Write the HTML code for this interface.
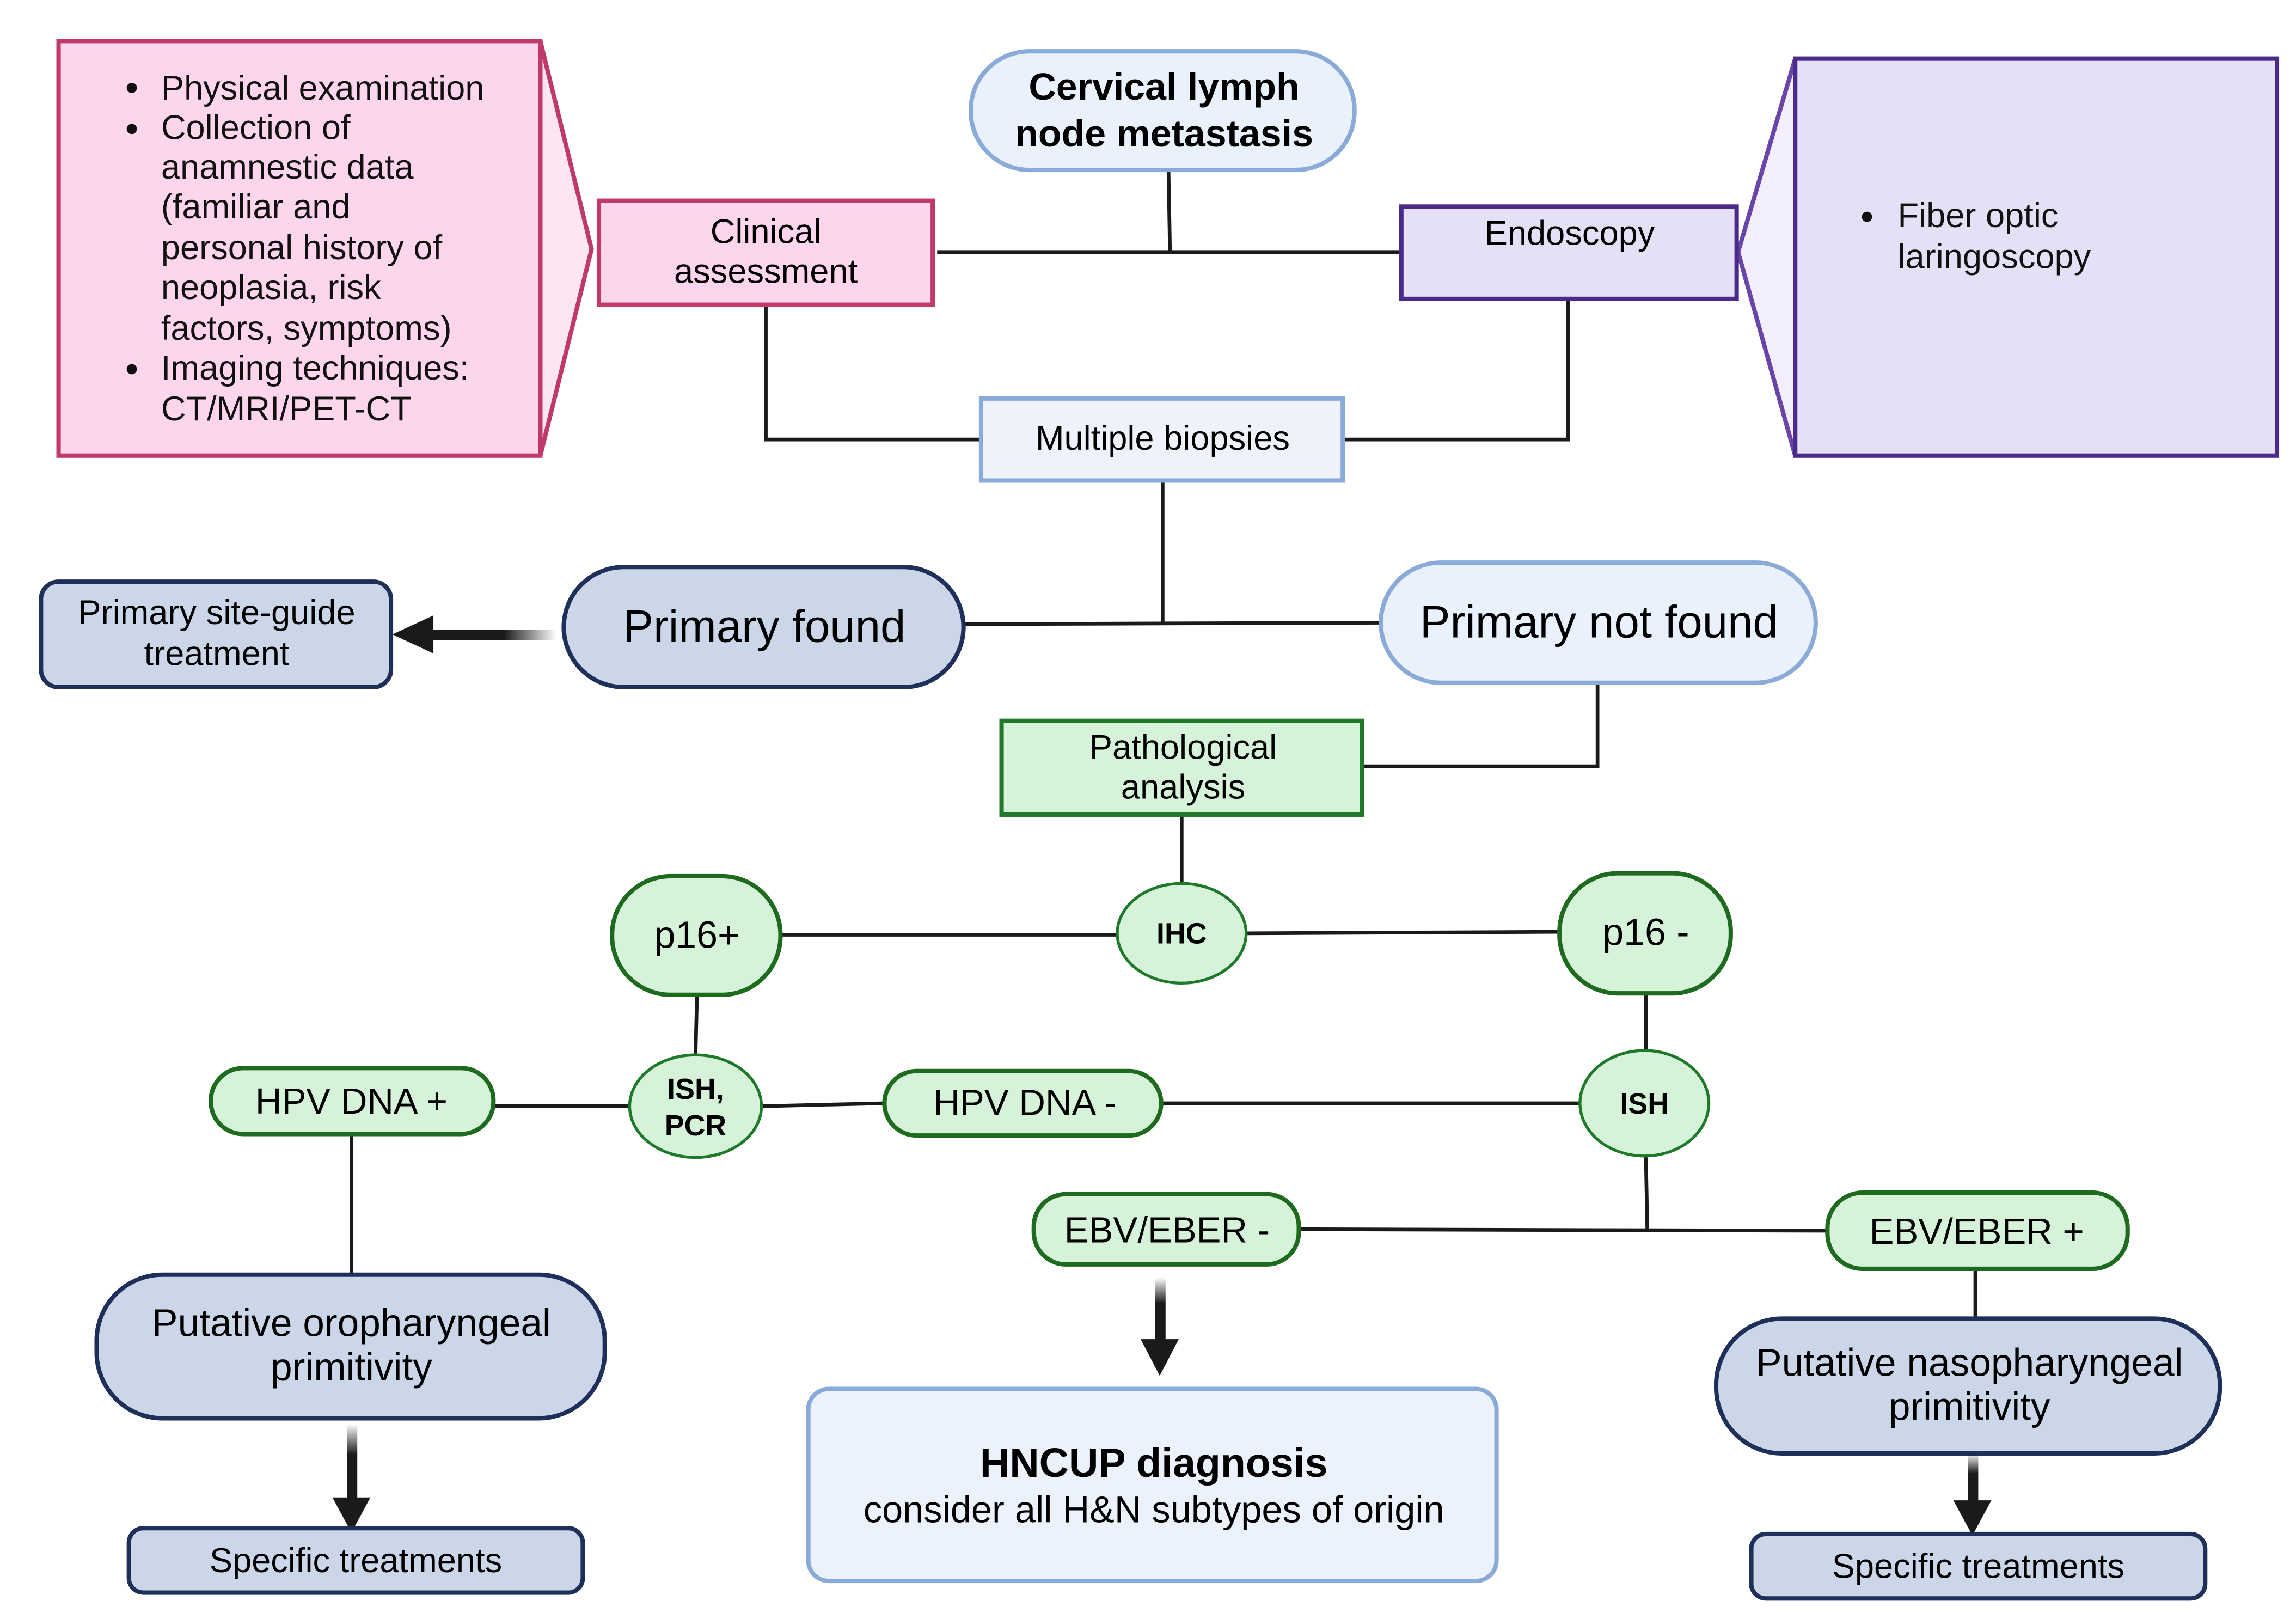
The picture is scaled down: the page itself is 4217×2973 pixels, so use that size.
<!DOCTYPE html>
<html><head><meta charset="utf-8"><style>html,body{margin:0;padding:0;background:#fff}svg{display:block}</style></head>
<body>
<svg width="4217" height="2973" viewBox="0 0 1568 1105" preserveAspectRatio="none" xmlns="http://www.w3.org/2000/svg" font-family="Liberation Sans, sans-serif">
<defs>
<linearGradient id="gl" x1="0" x2="1" y1="0" y2="0"><stop offset="0.6" stop-color="#1a1a1a"/><stop offset="1" stop-color="#1a1a1a" stop-opacity="0"/></linearGradient>
<linearGradient id="gd" x1="0" x2="0" y1="0" y2="1"><stop offset="0" stop-color="#1a1a1a" stop-opacity="0"/><stop offset="0.4" stop-color="#1a1a1a"/></linearGradient>
</defs>
<rect width="1568" height="1105" fill="#fff"/>
<g stroke="#1a1a1a" stroke-width="2.5" fill="none">
<path d="M798 116 L799 172 M640 172 L957 172"/>
<path d="M523 208 L523 300 L670 300 M1071 204 L1071 300 L917 300"/>
<path d="M794 328 L794 425 M658 426 L943 425"/>
<path d="M1091 466 L1091 523 L930 523 M807 556 L807 604"/>
<path d="M533 638 L763 638 M851 637 L1064 636"/>
<path d="M476 679 L475 720 M337 755 L430 755 M520 755 L604 753 M793 753 L1079 753"/>
<path d="M1124 678 L1124 717 M1124 789 L1125 839 M887 839 L1248 840"/>
<path d="M240 774 L240 870 M1349 866 L1349 900"/>
</g>
<path d="M369 28 L404 170 L369 311 Z" fill="#fde6f3" stroke="#c0396b" stroke-width="3"/>
<rect x="40" y="28" width="329" height="283" fill="#fdd5ec" stroke="#c0396b" stroke-width="3"/>
<g font-size="23.5" fill="#111">
<circle cx="90" cy="60" r="3.5"/><circle cx="90" cy="88" r="3.5"/><circle cx="90" cy="252" r="3.5"/>
<text x="110" y="68">Physical examination</text>
<text x="110" y="95">Collection of</text>
<text x="110" y="122">anamnestic data</text>
<text x="110" y="149">(familiar and</text>
<text x="110" y="177">personal history of</text>
<text x="110" y="204">neoplasia, risk</text>
<text x="110" y="232">factors, symptoms)</text>
<text x="110" y="259">Imaging techniques:</text>
<text x="110" y="287">CT/MRI/PET-CT</text>
</g>
<path d="M1226 40 L1187 172 L1226 311 Z" fill="#f3eefc" stroke="#6a45a8" stroke-width="3"/>
<rect x="1226" y="40" width="329" height="271" fill="#e6e0f7" stroke="#4a2a8a" stroke-width="3"/>
<circle cx="1275" cy="148" r="3.5" fill="#111"/>
<text x="1296" y="155" font-size="23.5" fill="#111">Fiber optic</text>
<text x="1296" y="183" font-size="23.5" fill="#111">laringoscopy</text>
<rect x="663" y="35" width="262" height="81" rx="40" fill="#e9f1fc" stroke="#8aaad8" stroke-width="3"/>
<text x="795" y="68" font-size="26" font-weight="bold" text-anchor="middle">Cervical lymph</text>
<text x="795" y="100" font-size="26" font-weight="bold" text-anchor="middle">node metastasis</text>
<rect x="409" y="137" width="228" height="71" fill="#fdd5ec" stroke="#c0396b" stroke-width="3"/>
<text x="523" y="166" font-size="23.5" text-anchor="middle">Clinical</text>
<text x="523" y="193" font-size="23.5" text-anchor="middle">assessment</text>
<rect x="957" y="141" width="229" height="63" fill="#e6e0f7" stroke="#4a2a8a" stroke-width="3"/>
<text x="1072" y="167" font-size="23.5" text-anchor="middle">Endoscopy</text>
<rect x="670" y="272" width="247" height="56" fill="#eef3fb" stroke="#8aaad8" stroke-width="3"/>
<text x="794" y="307" font-size="23.5" text-anchor="middle">Multiple biopsies</text>
<rect x="385" y="387" width="273" height="82" rx="41" fill="#cbd6e8" stroke="#1e2f5a" stroke-width="3"/>
<text x="522" y="438" font-size="31" text-anchor="middle">Primary found</text>
<rect x="943" y="384" width="297" height="82" rx="41" fill="#e9f1fc" stroke="#8aaad8" stroke-width="3"/>
<text x="1092" y="435" font-size="31" text-anchor="middle">Primary not found</text>
<rect x="290" y="430" width="90" height="7" fill="url(#gl)"/>
<path d="M268 433 L296 420 L296 446 Z" fill="#1a1a1a"/>
<rect x="28" y="397" width="239" height="72" rx="12" fill="#cbd6e8" stroke="#1e2f5a" stroke-width="3"/>
<text x="148" y="426" font-size="23.5" text-anchor="middle">Primary site-guide</text>
<text x="148" y="454" font-size="23.5" text-anchor="middle">treatment</text>
<rect x="684" y="492" width="246" height="64" fill="#d6f2d9" stroke="#1e7a2a" stroke-width="3"/>
<text x="808" y="518" font-size="23.5" text-anchor="middle">Pathological</text>
<text x="808" y="545" font-size="23.5" text-anchor="middle">analysis</text>
<ellipse cx="807" cy="637" rx="44" ry="34" fill="#d6f2d9" stroke="#1e7a2a" stroke-width="2"/>
<text x="807" y="644" font-size="20" font-weight="bold" text-anchor="middle">IHC</text>
<rect x="418" y="598" width="115" height="81" rx="40" fill="#d6f2d9" stroke="#1e6a1e" stroke-width="3"/>
<text x="476" y="647" font-size="26" text-anchor="middle">p16+</text>
<rect x="1065" y="596" width="117" height="82" rx="40" fill="#d6f2d9" stroke="#1e6a1e" stroke-width="3"/>
<text x="1124" y="645" font-size="26" text-anchor="middle">p16 -</text>
<ellipse cx="475" cy="755" rx="45" ry="35" fill="#d6f2d9" stroke="#1e7a2a" stroke-width="2"/>
<text x="475" y="750" font-size="20" font-weight="bold" text-anchor="middle">ISH,</text>
<text x="475" y="775" font-size="20" font-weight="bold" text-anchor="middle">PCR</text>
<ellipse cx="1123" cy="753" rx="44" ry="36" fill="#d6f2d9" stroke="#1e7a2a" stroke-width="2"/>
<text x="1123" y="760" font-size="20" font-weight="bold" text-anchor="middle">ISH</text>
<rect x="144" y="729" width="193" height="45" rx="22" fill="#d6f2d9" stroke="#1e6a1e" stroke-width="3"/>
<text x="240" y="760" font-size="25" text-anchor="middle">HPV DNA +</text>
<rect x="604" y="731" width="189" height="44" rx="22" fill="#d6f2d9" stroke="#1e6a1e" stroke-width="3"/>
<text x="700" y="761" font-size="25" text-anchor="middle">HPV DNA -</text>
<rect x="706" y="815" width="181" height="48" rx="22" fill="#d6f2d9" stroke="#1e6a1e" stroke-width="3"/>
<text x="797" y="848" font-size="25" text-anchor="middle">EBV/EBER -</text>
<rect x="1248" y="814" width="205" height="52" rx="24" fill="#d6f2d9" stroke="#1e6a1e" stroke-width="3"/>
<text x="1350" y="849" font-size="25" text-anchor="middle">EBV/EBER +</text>
<rect x="66" y="870" width="347" height="98" rx="45" fill="#cbd6e8" stroke="#1e2f5a" stroke-width="3"/>
<text x="240" y="912" font-size="26.5" text-anchor="middle">Putative oropharyngeal</text>
<text x="240" y="942" font-size="26.5" text-anchor="middle">primitivity</text>
<rect x="237" y="972" width="7" height="52" fill="url(#gd)"/>
<path d="M240 1046 L227 1022 L253 1022 Z" fill="#1a1a1a"/>
<rect x="88" y="1043" width="310" height="44" rx="10" fill="#cbd6e8" stroke="#1e2f5a" stroke-width="3"/>
<text x="243" y="1073" font-size="23.5" text-anchor="middle">Specific  treatments</text>
<rect x="789" y="872" width="7" height="44" fill="url(#gd)"/>
<path d="M792 939 L779 914 L805 914 Z" fill="#1a1a1a"/>
<rect x="552" y="948" width="470" height="131" rx="14" fill="#ebf2fc" stroke="#8aaad8" stroke-width="3"/>
<text x="788" y="1008" font-size="28" font-weight="bold" text-anchor="middle">HNCUP diagnosis</text>
<text x="788" y="1039" font-size="25.5" text-anchor="middle">consider all H&amp;N subtypes of origin</text>
<rect x="1172" y="900" width="344" height="92" rx="45" fill="#cbd6e8" stroke="#1e2f5a" stroke-width="3"/>
<text x="1345" y="939" font-size="26.5" text-anchor="middle">Putative nasopharyngeal</text>
<text x="1345" y="969" font-size="26.5" text-anchor="middle">primitivity</text>
<rect x="1344" y="992" width="7" height="34" fill="url(#gd)"/>
<path d="M1347 1048 L1334 1024 L1360 1024 Z" fill="#1a1a1a"/>
<rect x="1196" y="1047" width="310" height="44" rx="10" fill="#cbd6e8" stroke="#1e2f5a" stroke-width="3"/>
<text x="1351" y="1077" font-size="23.5" text-anchor="middle">Specific  treatments</text>
</svg>
</body></html>
